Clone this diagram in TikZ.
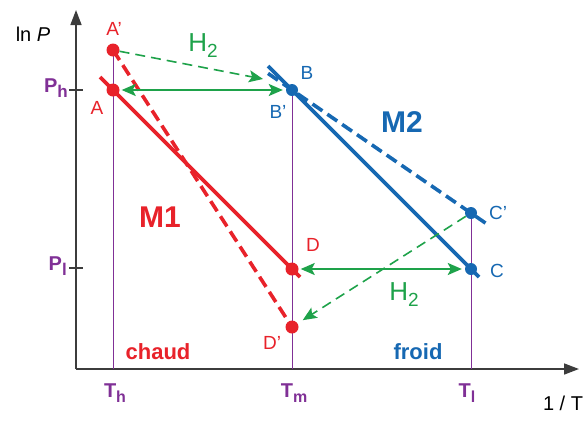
\documentclass[tikz,border=0pt]{standalone}
\usepackage{fontspec}
\setmainfont{Liberation Sans}
\usetikzlibrary{arrows.meta}
\definecolor{cred}{RGB}{232,34,42}
\definecolor{cblue}{RGB}{22,104,178}
\definecolor{cgreen}{RGB}{30,162,74}
\definecolor{cpurple}{RGB}{128,48,150}
\definecolor{caxis}{RGB}{60,60,60}
\newcommand{\fs}[1]{\fontsize{#1}{#1}\selectfont}
\newcommand{\mysub}[2]{\raisebox{-#2pt}{#1}}
\tikzset{
  axisline/.style={draw=caxis,line width=1.6pt,-{Triangle[length=15pt,width=11pt]}},
  vline/.style={draw=cpurple,line width=1pt},
  tick/.style={draw=caxis,line width=1.2pt},
  redline/.style={draw=cred,line width=3.6pt},
  blueline/.style={draw=cblue,line width=3.6pt},
  dashpat/.style={dash pattern=on 12pt off 6pt},
  garrow/.style={draw=cgreen,line width=1.8pt,{Stealth[length=14pt,width=12pt,inset=3pt]}-{Stealth[length=14pt,width=12pt,inset=3pt]}},
  gdarrow/.style={draw=cgreen,line width=1.6pt,dash pattern=on 10pt off 6pt,-{Stealth[length=14pt,width=12pt,inset=3pt]}},
  rdot/.style={circle,fill=cred,inner sep=0pt,minimum size=13pt},
  bdot/.style={circle,fill=cblue,inner sep=0pt,minimum size=12pt},
  lab/.style={inner sep=0pt,font=\fs{19}},
  big/.style={inner sep=0pt,font=\fs{30}\bfseries},
  word/.style={inner sep=0pt,font=\fs{22}\bfseries},
  plab/.style={inner sep=0pt,text=cpurple,font=\fs{20}\bfseries},
}
\begin{document}
\begin{tikzpicture}[x=1pt,y=-1pt]
\useasboundingbox (0,0) rectangle (588,421);
% axes
\coordinate (O) at (76,369);
\coordinate (Ytop) at (76,10);
\coordinate (Xend) at (579,369);
\draw[axisline] (O) -- (Ytop);
\draw[axisline] (O) -- (Xend);
\coordinate (ph1) at (69,90); \coordinate (ph2) at (83,90);
\coordinate (pl1) at (69,268); \coordinate (pl2) at (83,268);
\draw[tick] (ph1) -- (ph2);
\draw[tick] (pl1) -- (pl2);
% points
\coordinate (Ap) at (113,50);
\coordinate (A) at (113,90);
\coordinate (B) at (292,90);
\coordinate (Cp) at (471,213);
\coordinate (C) at (471,269);
\coordinate (D) at (292,269);
\coordinate (Dp) at (292,327);
\coordinate (Th) at (113,369);
\coordinate (Tm) at (292,369);
\coordinate (Tl) at (471,369);
% vertical lines
\draw[vline] (Ap) -- (Th);
\draw[vline] (B) -- (Tm);
\draw[vline] (Cp) -- (Tl);
% M1 lines
\coordinate (m1s) at (100,77);
\coordinate (m1e) at (300,277);
\draw[redline] (m1s) -- (m1e);
\draw[redline,dashpat] (Ap) -- (Dp);
% M2 lines
\coordinate (m2s) at (268,66);
\coordinate (m2e) at (479,277);
\coordinate (m2ds) at (268,73.4);
\coordinate (m2de) at (486,223.4);
\draw[blueline] (m2s) -- (m2e);
\draw[blueline,dashpat] (m2ds) -- (m2de);
% dots
\node[rdot] (nAp) at (Ap) {};
\node[rdot] (nA) at (A) {};
\node[rdot] (nD) at (D) {};
\node[rdot] (nDp) at (Dp) {};
\node[bdot] (nB) at (B) {};
\node[bdot] (nC) at (C) {};
\node[bdot] (nCp) at (Cp) {};
% green arrows
\coordinate (g1e) at (263,79);
\draw[gdarrow] (nAp) -- (g1e);
\draw[garrow,shorten <=2pt,shorten >=3pt] (nA) -- (nB);
\draw[garrow,shorten <=2pt,shorten >=3pt] (nD) -- (nC);
\draw[gdarrow,shorten >=6pt] (nCp) -- (nDp);
% labels
\node[lab,text=black,font=\fs{20}] (lnP) at (33,34) {ln \textit{P}};
\node[lab,text=cred] (lAp) at (114,29) {A'};
\node[lab,text=cred] (lA) at (97,108) {A};
\node[lab,text=cblue] (lB) at (307,73) {B};
\node[lab,text=cblue] (lBp) at (278,112) {B'};
\node[lab,text=cblue] (lCp) at (498,213) {C'};
\node[lab,text=cblue] (lC) at (497,271) {C};
\node[lab,text=cred] (lD) at (313,245) {D};
\node[lab,text=cred] (lDp) at (272,343) {D'};
\node[lab,text=cgreen,font=\fs{26}] (h1) at (203,46) {H\mysub{\fs{19}2}{6}};
\node[lab,text=cgreen,font=\fs{26}] (h2) at (404,295) {H\mysub{\fs{19}2}{6}};
\node[big,text=cred] (M1) at (160,217) {M1};
\node[big,text=cblue] (M2) at (402,122) {M2};
\node[word,text=cred] (chaud) at (158,352) {chaud};
\node[word,text=cblue] (froid) at (418,352) {froid};
\node[plab,anchor=east] (Ph) at (68,88) {P\mysub{\fs{17}h}{5}};
\node[plab,anchor=east] (Pl) at (67,266) {P\mysub{\fs{17}l}{5}};
\node[plab] (lTh) at (115,393) {T\mysub{\fs{16}h}{5}};
\node[plab] (lTm) at (294,393) {T\mysub{\fs{16}m}{5}};
\node[plab] (lTl) at (467,393) {T\mysub{\fs{16}l}{5}};
\node[lab,text=black,font=\fs{20}] (xl) at (563,403) {1 / T};
\end{tikzpicture}
\end{document}
